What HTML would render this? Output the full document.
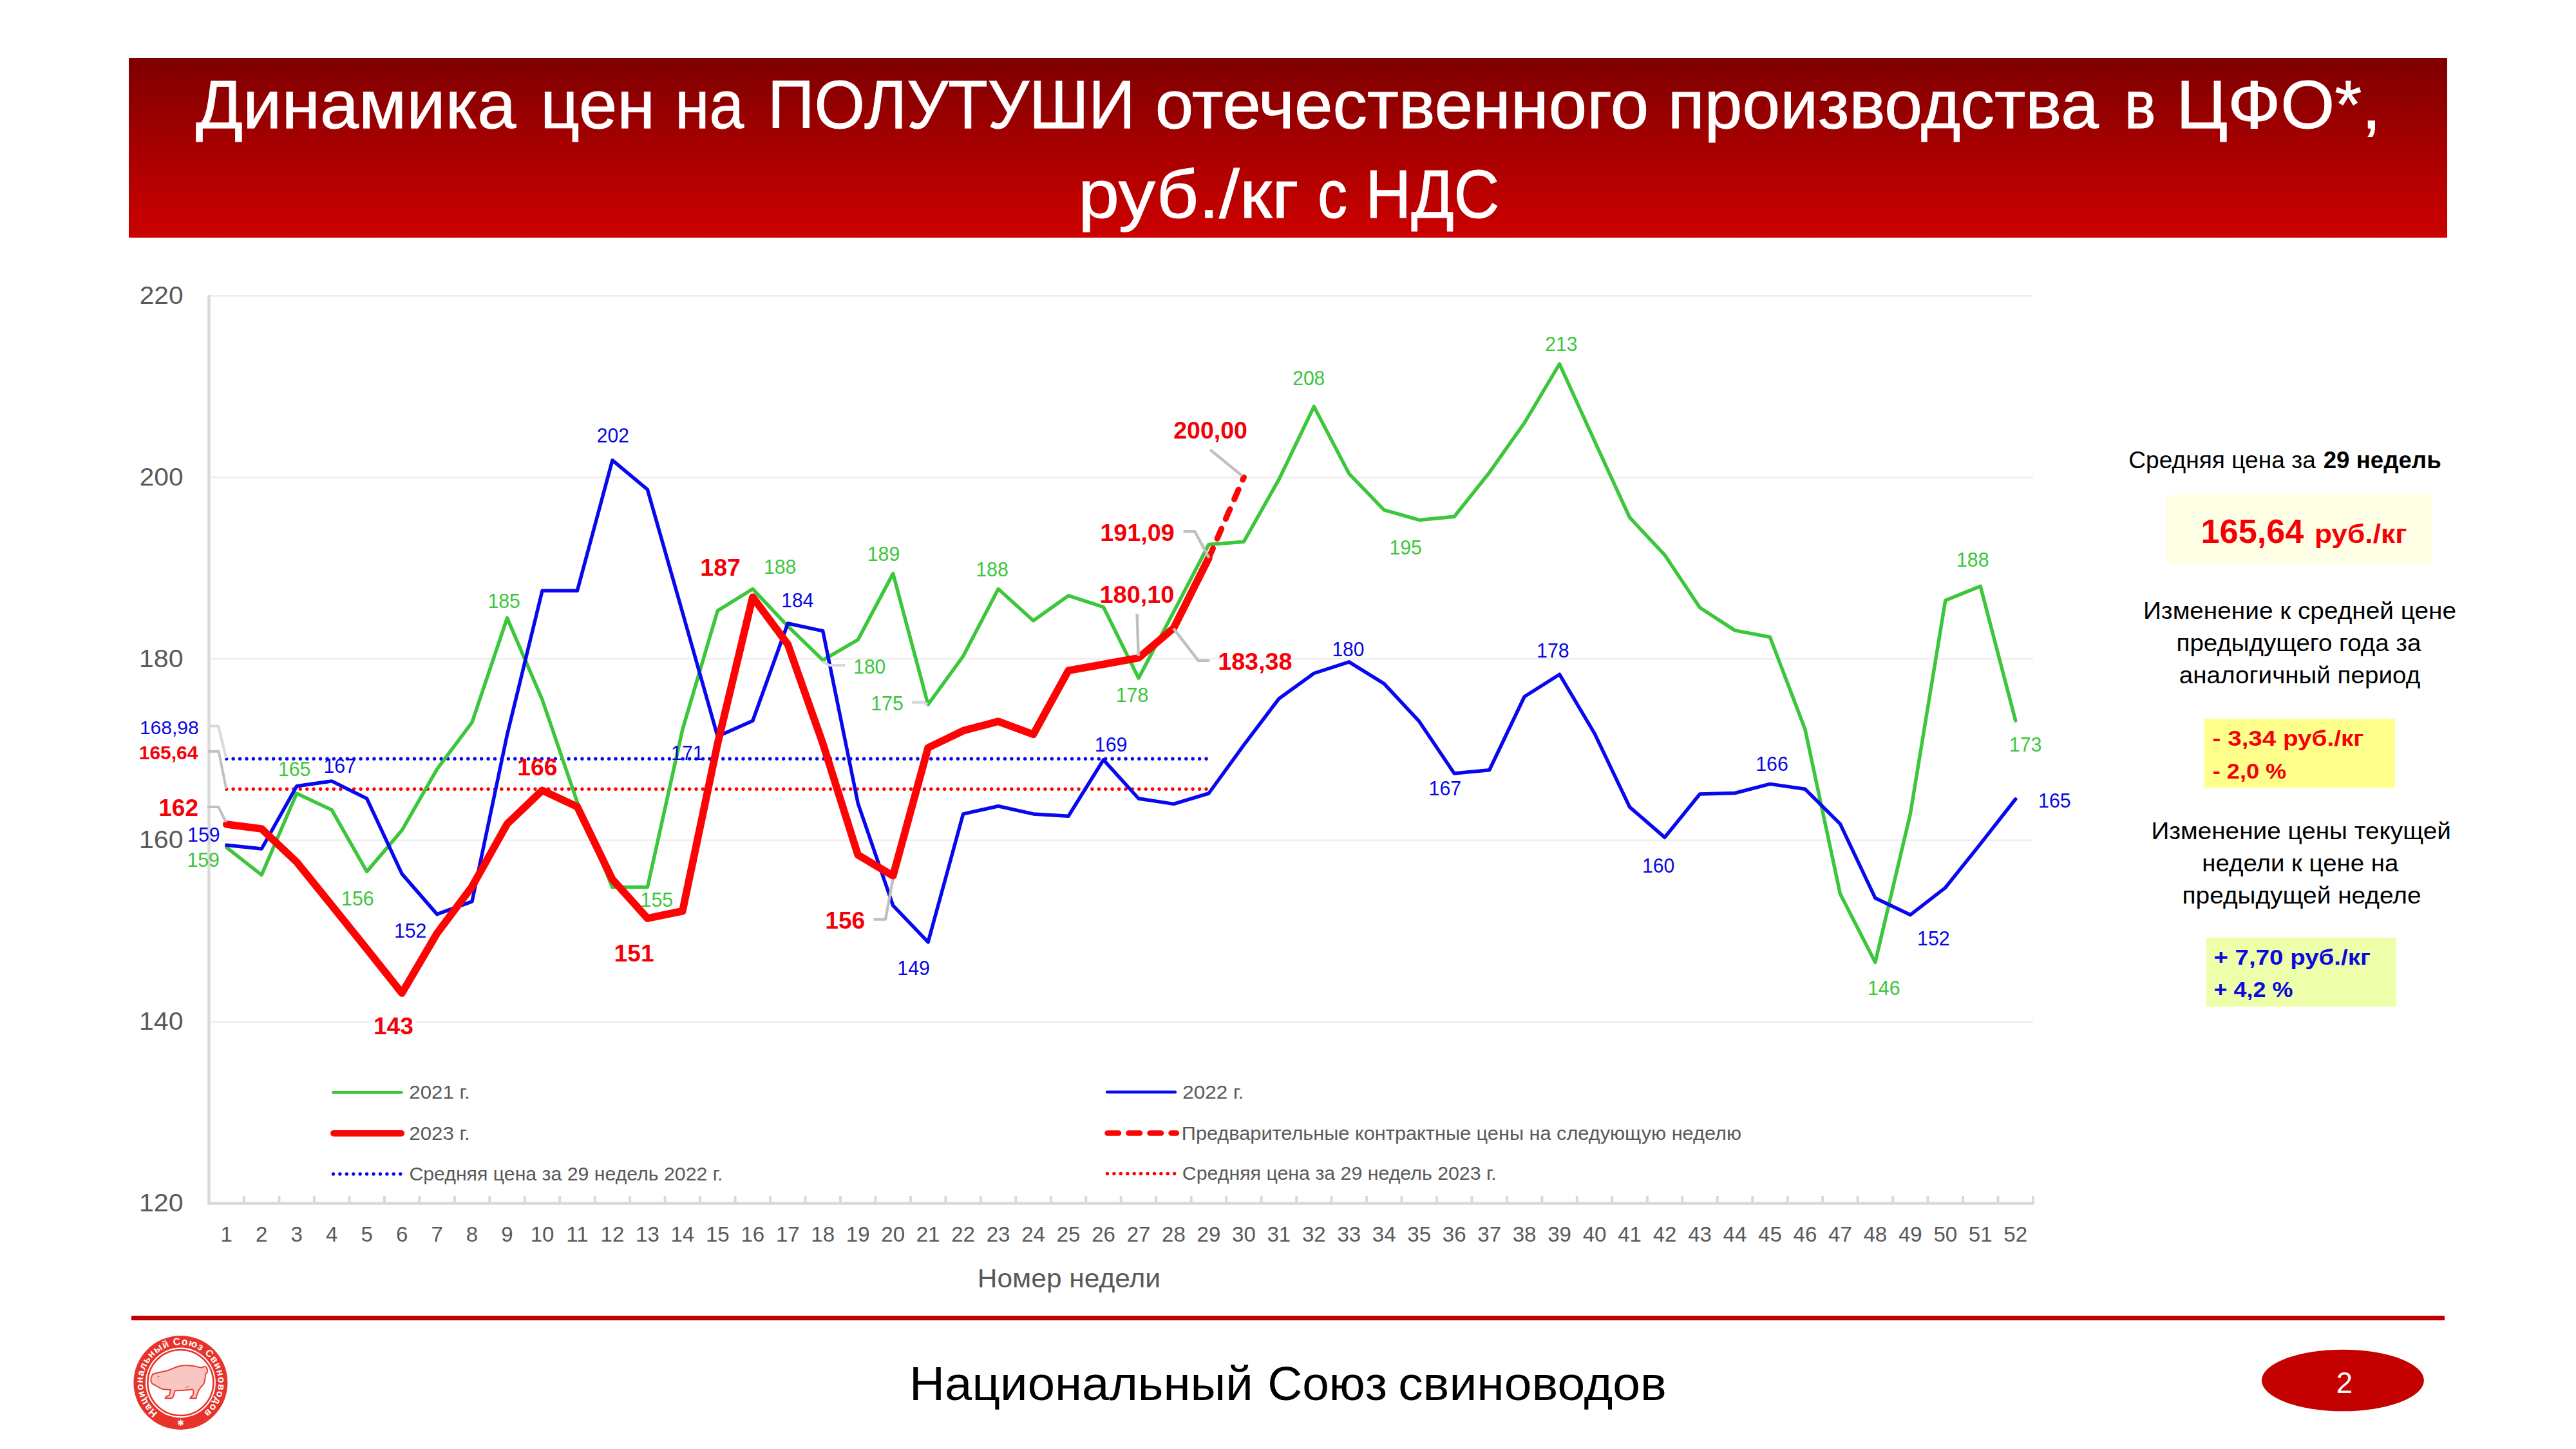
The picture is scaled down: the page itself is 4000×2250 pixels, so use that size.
<!DOCTYPE html>
<html lang="ru">
<head>
<meta charset="utf-8">
<title>Динамика цен на полутуши</title>
<style>
html,body{margin:0;padding:0;background:#fff;}
body{width:4000px;height:2250px;overflow:hidden;font-family:'Liberation Sans',sans-serif;}
svg{display:block;position:absolute;left:0;top:0;}
svg text{font-family:'Liberation Sans',sans-serif;}
</style>
</head>
<body>
<svg width="4000" height="2250" viewBox="0 0 4000 2250">
<defs>
<linearGradient id="hg" x1="0" y1="0" x2="0" y2="1">
<stop offset="0" stop-color="#7d0000"/>
<stop offset="0.5" stop-color="#a70000"/>
<stop offset="1" stop-color="#cc0000"/>
</linearGradient>
</defs>
<rect x="0" y="0" width="4000" height="2250" fill="#ffffff"/>

<rect x="200" y="90" width="3600" height="279" fill="url(#hg)"/>
<text x="304.0" y="199.0" font-size="105" fill="#ffffff" stroke="#fff" stroke-width="0.9" textLength="497.3" lengthAdjust="spacingAndGlyphs">Динамика</text>
<text x="839.1" y="199.0" font-size="105" fill="#ffffff" stroke="#fff" stroke-width="0.9" textLength="178.1" lengthAdjust="spacingAndGlyphs">цен</text>
<text x="1048.2" y="199.0" font-size="105" fill="#ffffff" stroke="#fff" stroke-width="0.9" textLength="106.8" lengthAdjust="spacingAndGlyphs">на</text>
<text x="1192.1" y="199.0" font-size="105" fill="#ffffff" stroke="#fff" stroke-width="0.9" textLength="570.8" lengthAdjust="spacingAndGlyphs">ПОЛУТУШИ</text>
<text x="1793.7" y="199.0" font-size="105" fill="#ffffff" stroke="#fff" stroke-width="0.9" textLength="766.6" lengthAdjust="spacingAndGlyphs">отечественного</text>
<text x="2589.7" y="199.0" font-size="105" fill="#ffffff" stroke="#fff" stroke-width="0.9" textLength="669.2" lengthAdjust="spacingAndGlyphs">производства</text>
<text x="3298.8" y="199.0" font-size="105" fill="#ffffff" stroke="#fff" stroke-width="0.9" textLength="48.7" lengthAdjust="spacingAndGlyphs">в</text>
<text x="3379.3" y="199.0" font-size="105" fill="#ffffff" stroke="#fff" stroke-width="0.9" textLength="318.1" lengthAdjust="spacingAndGlyphs">ЦФО*,</text>
<text x="1674.2" y="338.0" font-size="105" fill="#ffffff" stroke="#fff" stroke-width="0.9" textLength="342.8" lengthAdjust="spacingAndGlyphs">руб./кг</text>
<text x="2045.9" y="338.0" font-size="105" fill="#ffffff" stroke="#fff" stroke-width="0.9" textLength="46.2" lengthAdjust="spacingAndGlyphs">с</text>
<text x="2120.3" y="338.0" font-size="105" fill="#ffffff" stroke="#fff" stroke-width="0.9" textLength="208.1" lengthAdjust="spacingAndGlyphs">НДС</text>
<line x1="324.5" y1="459.4" x2="3157" y2="459.4" stroke="#eeeeee" stroke-width="2.7"/>
<line x1="324.5" y1="741.2" x2="3157" y2="741.2" stroke="#eeeeee" stroke-width="2.7"/>
<line x1="324.5" y1="1023.0" x2="3157" y2="1023.0" stroke="#eeeeee" stroke-width="2.7"/>
<line x1="324.5" y1="1304.8" x2="3157" y2="1304.8" stroke="#eeeeee" stroke-width="2.7"/>
<line x1="324.5" y1="1586.6" x2="3157" y2="1586.6" stroke="#eeeeee" stroke-width="2.7"/>
<line x1="324.5" y1="457.9" x2="324.5" y2="1870.7" stroke="#d9d9d9" stroke-width="4.5"/>
<line x1="322.3" y1="1868.5" x2="3158.5" y2="1868.5" stroke="#d9d9d9" stroke-width="4.5"/>
<path d="M379.0 1857V1868M433.4 1857V1868M487.9 1857V1868M542.4 1857V1868M596.9 1857V1868M651.3 1857V1868M705.8 1857V1868M760.3 1857V1868M814.7 1857V1868M869.2 1857V1868M923.7 1857V1868M978.1 1857V1868M1032.6 1857V1868M1087.1 1857V1868M1141.5 1857V1868M1196.0 1857V1868M1250.5 1857V1868M1305.0 1857V1868M1359.4 1857V1868M1413.9 1857V1868M1468.4 1857V1868M1522.8 1857V1868M1577.3 1857V1868M1631.8 1857V1868M1686.2 1857V1868M1740.7 1857V1868M1795.2 1857V1868M1849.7 1857V1868M1904.1 1857V1868M1958.6 1857V1868M2013.1 1857V1868M2067.5 1857V1868M2122.0 1857V1868M2176.5 1857V1868M2230.9 1857V1868M2285.4 1857V1868M2339.9 1857V1868M2394.4 1857V1868M2448.8 1857V1868M2503.3 1857V1868M2557.8 1857V1868M2612.2 1857V1868M2666.7 1857V1868M2721.2 1857V1868M2775.7 1857V1868M2830.1 1857V1868M2884.6 1857V1868M2939.1 1857V1868M2993.5 1857V1868M3048.0 1857V1868M3102.5 1857V1868M3156.9 1857V1868" stroke="#d9d9d9" stroke-width="4" fill="none"/>
<text x="216.7" y="472.0" font-size="39.5" fill="#595959" textLength="67.8" lengthAdjust="spacingAndGlyphs">220</text>
<text x="216.7" y="753.8" font-size="39.5" fill="#595959" textLength="67.8" lengthAdjust="spacingAndGlyphs">200</text>
<text x="216.0" y="1035.6" font-size="39.5" fill="#595959" textLength="68.5" lengthAdjust="spacingAndGlyphs">180</text>
<text x="216.0" y="1317.4" font-size="39.5" fill="#595959" textLength="68.5" lengthAdjust="spacingAndGlyphs">160</text>
<text x="216.0" y="1599.2" font-size="39.5" fill="#595959" textLength="68.5" lengthAdjust="spacingAndGlyphs">140</text>
<text x="216.0" y="1881.0" font-size="39.5" fill="#595959" textLength="68.5" lengthAdjust="spacingAndGlyphs">120</text>
<text x="351.7" y="1927.5" font-size="33" fill="#595959" text-anchor="middle">1</text>
<text x="406.2" y="1927.5" font-size="33" fill="#595959" text-anchor="middle">2</text>
<text x="460.7" y="1927.5" font-size="33" fill="#595959" text-anchor="middle">3</text>
<text x="515.1" y="1927.5" font-size="33" fill="#595959" text-anchor="middle">4</text>
<text x="569.6" y="1927.5" font-size="33" fill="#595959" text-anchor="middle">5</text>
<text x="624.1" y="1927.5" font-size="33" fill="#595959" text-anchor="middle">6</text>
<text x="678.6" y="1927.5" font-size="33" fill="#595959" text-anchor="middle">7</text>
<text x="733.0" y="1927.5" font-size="33" fill="#595959" text-anchor="middle">8</text>
<text x="787.5" y="1927.5" font-size="33" fill="#595959" text-anchor="middle">9</text>
<text x="842.0" y="1927.5" font-size="33" fill="#595959" text-anchor="middle">10</text>
<text x="896.4" y="1927.5" font-size="33" fill="#595959" text-anchor="middle">11</text>
<text x="950.9" y="1927.5" font-size="33" fill="#595959" text-anchor="middle">12</text>
<text x="1005.4" y="1927.5" font-size="33" fill="#595959" text-anchor="middle">13</text>
<text x="1059.8" y="1927.5" font-size="33" fill="#595959" text-anchor="middle">14</text>
<text x="1114.3" y="1927.5" font-size="33" fill="#595959" text-anchor="middle">15</text>
<text x="1168.8" y="1927.5" font-size="33" fill="#595959" text-anchor="middle">16</text>
<text x="1223.3" y="1927.5" font-size="33" fill="#595959" text-anchor="middle">17</text>
<text x="1277.7" y="1927.5" font-size="33" fill="#595959" text-anchor="middle">18</text>
<text x="1332.2" y="1927.5" font-size="33" fill="#595959" text-anchor="middle">19</text>
<text x="1386.7" y="1927.5" font-size="33" fill="#595959" text-anchor="middle">20</text>
<text x="1441.1" y="1927.5" font-size="33" fill="#595959" text-anchor="middle">21</text>
<text x="1495.6" y="1927.5" font-size="33" fill="#595959" text-anchor="middle">22</text>
<text x="1550.1" y="1927.5" font-size="33" fill="#595959" text-anchor="middle">23</text>
<text x="1604.5" y="1927.5" font-size="33" fill="#595959" text-anchor="middle">24</text>
<text x="1659.0" y="1927.5" font-size="33" fill="#595959" text-anchor="middle">25</text>
<text x="1713.5" y="1927.5" font-size="33" fill="#595959" text-anchor="middle">26</text>
<text x="1768.0" y="1927.5" font-size="33" fill="#595959" text-anchor="middle">27</text>
<text x="1822.4" y="1927.5" font-size="33" fill="#595959" text-anchor="middle">28</text>
<text x="1876.9" y="1927.5" font-size="33" fill="#595959" text-anchor="middle">29</text>
<text x="1931.4" y="1927.5" font-size="33" fill="#595959" text-anchor="middle">30</text>
<text x="1985.8" y="1927.5" font-size="33" fill="#595959" text-anchor="middle">31</text>
<text x="2040.3" y="1927.5" font-size="33" fill="#595959" text-anchor="middle">32</text>
<text x="2094.8" y="1927.5" font-size="33" fill="#595959" text-anchor="middle">33</text>
<text x="2149.2" y="1927.5" font-size="33" fill="#595959" text-anchor="middle">34</text>
<text x="2203.7" y="1927.5" font-size="33" fill="#595959" text-anchor="middle">35</text>
<text x="2258.2" y="1927.5" font-size="33" fill="#595959" text-anchor="middle">36</text>
<text x="2312.7" y="1927.5" font-size="33" fill="#595959" text-anchor="middle">37</text>
<text x="2367.1" y="1927.5" font-size="33" fill="#595959" text-anchor="middle">38</text>
<text x="2421.6" y="1927.5" font-size="33" fill="#595959" text-anchor="middle">39</text>
<text x="2476.1" y="1927.5" font-size="33" fill="#595959" text-anchor="middle">40</text>
<text x="2530.5" y="1927.5" font-size="33" fill="#595959" text-anchor="middle">41</text>
<text x="2585.0" y="1927.5" font-size="33" fill="#595959" text-anchor="middle">42</text>
<text x="2639.5" y="1927.5" font-size="33" fill="#595959" text-anchor="middle">43</text>
<text x="2693.9" y="1927.5" font-size="33" fill="#595959" text-anchor="middle">44</text>
<text x="2748.4" y="1927.5" font-size="33" fill="#595959" text-anchor="middle">45</text>
<text x="2802.9" y="1927.5" font-size="33" fill="#595959" text-anchor="middle">46</text>
<text x="2857.4" y="1927.5" font-size="33" fill="#595959" text-anchor="middle">47</text>
<text x="2911.8" y="1927.5" font-size="33" fill="#595959" text-anchor="middle">48</text>
<text x="2966.3" y="1927.5" font-size="33" fill="#595959" text-anchor="middle">49</text>
<text x="3020.8" y="1927.5" font-size="33" fill="#595959" text-anchor="middle">50</text>
<text x="3075.2" y="1927.5" font-size="33" fill="#595959" text-anchor="middle">51</text>
<text x="3129.7" y="1927.5" font-size="33" fill="#595959" text-anchor="middle">52</text>
<text x="1517.8" y="1999.0" font-size="41" fill="#595959" textLength="284.2" lengthAdjust="spacingAndGlyphs">Номер недели</text>
<line x1="351.7" y1="1178.3" x2="1877.9" y2="1178.3" stroke="#0808ee" stroke-width="5.4" stroke-linecap="round" stroke-dasharray="0 10.42"/>
<line x1="351.7" y1="1225.3" x2="1877.9" y2="1225.3" stroke="#fd0404" stroke-width="5.4" stroke-linecap="round" stroke-dasharray="0 10.42"/>
<polyline points="351.7,1315.8 406.2,1358.6 460.7,1232.0 515.1,1257.6 569.6,1353.4 624.1,1289.3 678.6,1194.3 733.0,1121.6 787.5,959.6 842.0,1086.4 896.4,1245.6 950.9,1377.6 1005.4,1377.6 1059.8,1132.9 1114.3,948.3 1168.8,914.5 1223.3,972.3 1277.7,1025.1 1332.2,993.4 1386.7,890.6 1441.1,1094.0 1495.6,1018.8 1550.1,914.5 1604.5,963.8 1659.0,924.9 1713.5,942.7 1768.0,1053.0 1822.4,950.2 1876.9,845.5 1931.4,841.2 1985.8,744.7 2040.3,631.3 2094.8,735.6 2149.2,791.9 2203.7,807.4 2258.2,802.2 2312.7,733.7 2367.1,656.7 2421.6,565.1 2476.1,685.1 2530.5,803.5 2585.0,861.8 2639.5,943.5 2693.9,978.9 2748.4,989.2 2802.9,1132.5 2857.4,1387.9 2911.8,1494.3 2966.3,1263.9 3020.8,932.3 3075.2,910.3 3129.7,1119.0" fill="none" stroke="#3cc63c" stroke-width="5.5" stroke-linejoin="round" stroke-linecap="round"/>
<polyline points="351.7,1312.3 406.2,1318.0 460.7,1220.8 515.1,1212.9 569.6,1240.0 624.1,1356.9 678.6,1419.6 733.0,1399.8 787.5,1140.9 842.0,917.3 896.4,917.3 950.9,714.7 1005.4,760.2 1059.8,951.1 1114.3,1143.5 1168.8,1119.2 1223.3,968.0 1277.7,979.7 1332.2,1247.3 1386.7,1406.2 1441.1,1462.9 1495.6,1263.9 1550.1,1251.8 1604.5,1263.9 1659.0,1267.2 1713.5,1179.8 1768.0,1240.0 1822.4,1248.4 1876.9,1232.0 1931.4,1156.9 1985.8,1085.0 2040.3,1045.5 2094.8,1027.8 2149.2,1061.7 2203.7,1120.2 2258.2,1201.0 2312.7,1195.7 2367.1,1081.8 2421.6,1047.2 2476.1,1139.1 2530.5,1253.1 2585.0,1300.3 2639.5,1232.9 2693.9,1231.5 2748.4,1217.4 2802.9,1225.3 2857.4,1279.4 2911.8,1394.4 2966.3,1420.6 3020.8,1378.3 3075.2,1310.4 3129.7,1240.8" fill="none" stroke="#0808ee" stroke-width="5.5" stroke-linejoin="round" stroke-linecap="round"/>
<line x1="1876.9" y1="866.7" x2="1931.4" y2="741.2" stroke="#fd0404" stroke-width="9" stroke-linecap="round" stroke-dasharray="16.6 16.6"/>
<polyline points="351.7,1280.0 406.2,1287.0 460.7,1338.6 515.1,1405.8 569.6,1473.6 624.1,1542.1 678.6,1449.2 733.0,1376.7 787.5,1279.4 842.0,1227.3 896.4,1252.7 950.9,1365.4 1005.4,1426.0 1059.8,1414.7 1114.3,1154.6 1168.8,927.2 1223.3,1000.5 1277.7,1154.5 1332.2,1327.6 1386.7,1359.9 1441.1,1161.1 1495.6,1134.7 1550.1,1120.2 1604.5,1140.4 1659.0,1041.3 1713.5,1031.5 1768.0,1021.6 1822.4,975.4 1876.9,866.7" fill="none" stroke="#fd0404" stroke-width="11.6" stroke-linejoin="round" stroke-linecap="round"/>
<polyline points="322.6,1127.5 339.1,1127.5 351.3,1177.2" fill="none" stroke="#d9d9d9" stroke-width="4" stroke-linejoin="round"/>
<polyline points="322.6,1166.8 339.6,1166.8 351.3,1224.7" fill="none" stroke="#bfbfbf" stroke-width="4" stroke-linejoin="round"/>
<polyline points="321.9,1252.9 339.1,1252.9 350.9,1276.6" fill="none" stroke="#bfbfbf" stroke-width="4" stroke-linejoin="round"/>
<polyline points="1276.4,1027.4 1287.9,1033.1 1312.2,1033.1" fill="none" stroke="#d9d9d9" stroke-width="4.4" stroke-linejoin="round"/>
<polyline points="1416,1090.5 1433.7,1090.5 1440.3,1094.1" fill="none" stroke="#d9d9d9" stroke-width="4.4" stroke-linejoin="round"/>
<polyline points="1356.4,1427.6 1374.9,1427.6 1386.4,1365.7" fill="none" stroke="#bfbfbf" stroke-width="4.4" stroke-linejoin="round"/>
<polyline points="1879.2,698.4 1929,739" fill="none" stroke="#bfbfbf" stroke-width="4.4" stroke-linejoin="round"/>
<polyline points="1837.6,825.2 1855.3,825.2 1877.4,866.2" fill="none" stroke="#bfbfbf" stroke-width="4.4" stroke-linejoin="round"/>
<polyline points="1765.6,953.3 1767.8,1018.6" fill="none" stroke="#bfbfbf" stroke-width="4.4" stroke-linejoin="round"/>
<polyline points="1822.2,975.8 1860.6,1025.7 1878.3,1025.7" fill="none" stroke="#bfbfbf" stroke-width="4.4" stroke-linejoin="round"/>
<rect x="576" y="1567" width="69.6" height="49" fill="#fff"/>
<rect x="329" y="1301" width="14" height="8" fill="#fff"/>
<text x="290.4" y="1346.3" font-size="30.5" fill="#3cc63c" textLength="50.6" lengthAdjust="spacingAndGlyphs">159</text>
<text x="431.9" y="1204.5" font-size="30.5" fill="#3cc63c" textLength="50.6" lengthAdjust="spacingAndGlyphs">165</text>
<text x="530.1" y="1406.3" font-size="30.5" fill="#3cc63c" textLength="50.6" lengthAdjust="spacingAndGlyphs">156</text>
<text x="757.4" y="943.5" font-size="30.5" fill="#3cc63c" textLength="50.6" lengthAdjust="spacingAndGlyphs">185</text>
<text x="994.6" y="1407.7" font-size="30.5" fill="#3cc63c" textLength="50.6" lengthAdjust="spacingAndGlyphs">155</text>
<text x="1185.9" y="890.9" font-size="30.5" fill="#3cc63c" textLength="50.6" lengthAdjust="spacingAndGlyphs">188</text>
<text x="1325.2" y="1045.5" font-size="30.5" fill="#3cc63c" textLength="50.1" lengthAdjust="spacingAndGlyphs">180</text>
<text x="1346.7" y="871.1" font-size="30.5" fill="#3cc63c" textLength="50.6" lengthAdjust="spacingAndGlyphs">189</text>
<text x="1352.2" y="1102.9" font-size="30.5" fill="#3cc63c" textLength="50.6" lengthAdjust="spacingAndGlyphs">175</text>
<text x="1515.2" y="895.3" font-size="30.5" fill="#3cc63c" textLength="50.6" lengthAdjust="spacingAndGlyphs">188</text>
<text x="1732.7" y="1089.6" font-size="30.5" fill="#3cc63c" textLength="50.6" lengthAdjust="spacingAndGlyphs">178</text>
<text x="2007.2" y="598.1" font-size="30.5" fill="#3cc63c" textLength="50.1" lengthAdjust="spacingAndGlyphs">208</text>
<text x="2157.4" y="860.9" font-size="30.5" fill="#3cc63c" textLength="50.6" lengthAdjust="spacingAndGlyphs">195</text>
<text x="2399.3" y="545.1" font-size="30.5" fill="#3cc63c" textLength="50.1" lengthAdjust="spacingAndGlyphs">213</text>
<text x="2900.0" y="1544.9" font-size="30.5" fill="#3cc63c" textLength="50.6" lengthAdjust="spacingAndGlyphs">146</text>
<text x="3038.0" y="879.6" font-size="30.5" fill="#3cc63c" textLength="50.6" lengthAdjust="spacingAndGlyphs">188</text>
<text x="3119.8" y="1166.7" font-size="30.5" fill="#3cc63c" textLength="50.6" lengthAdjust="spacingAndGlyphs">173</text>
<text x="291.1" y="1306.6" font-size="30.5" fill="#0606e4" textLength="50.6" lengthAdjust="spacingAndGlyphs">159</text>
<text x="502.4" y="1200.1" font-size="30.5" fill="#0606e4" textLength="50.6" lengthAdjust="spacingAndGlyphs">167</text>
<text x="611.9" y="1456.3" font-size="30.5" fill="#0606e4" textLength="50.6" lengthAdjust="spacingAndGlyphs">152</text>
<text x="926.8" y="687.3" font-size="30.5" fill="#0606e4" textLength="50.1" lengthAdjust="spacingAndGlyphs">202</text>
<text x="1042.1" y="1180.2" font-size="30.5" fill="#0606e4" textLength="50.6" lengthAdjust="spacingAndGlyphs">171</text>
<text x="1213.3" y="942.6" font-size="30.5" fill="#0606e4" textLength="50.1" lengthAdjust="spacingAndGlyphs">184</text>
<text x="1393.3" y="1513.7" font-size="30.5" fill="#0606e4" textLength="50.6" lengthAdjust="spacingAndGlyphs">149</text>
<text x="1699.8" y="1166.9" font-size="30.5" fill="#0606e4" textLength="50.6" lengthAdjust="spacingAndGlyphs">169</text>
<text x="2068.4" y="1018.6" font-size="30.5" fill="#0606e4" textLength="50.1" lengthAdjust="spacingAndGlyphs">180</text>
<text x="2218.6" y="1234.5" font-size="30.5" fill="#0606e4" textLength="50.6" lengthAdjust="spacingAndGlyphs">167</text>
<text x="2386.1" y="1021.3" font-size="30.5" fill="#0606e4" textLength="50.6" lengthAdjust="spacingAndGlyphs">178</text>
<text x="2550.1" y="1354.7" font-size="30.5" fill="#0606e4" textLength="50.1" lengthAdjust="spacingAndGlyphs">160</text>
<text x="2726.2" y="1196.5" font-size="30.5" fill="#0606e4" textLength="50.6" lengthAdjust="spacingAndGlyphs">166</text>
<text x="2977.1" y="1468.3" font-size="30.5" fill="#0606e4" textLength="50.6" lengthAdjust="spacingAndGlyphs">152</text>
<text x="3165.1" y="1253.7" font-size="30.5" fill="#0606e4" textLength="50.6" lengthAdjust="spacingAndGlyphs">165</text>
<text x="216.9" y="1139.6" font-size="30" fill="#0606e4" textLength="91.9" lengthAdjust="spacingAndGlyphs">168,98</text>
<text x="215.8" y="1179.0" font-size="30" fill="#f60008" font-weight="bold" textLength="91.6" lengthAdjust="spacingAndGlyphs">165,64</text>
<text x="246.3" y="1267.3" font-size="36.5" fill="#f60008" font-weight="bold" textLength="61.7" lengthAdjust="spacingAndGlyphs">162</text>
<text x="803.3" y="1203.6" font-size="36.5" fill="#f60008" font-weight="bold" textLength="62.1" lengthAdjust="spacingAndGlyphs">166</text>
<text x="579.9" y="1605.5" font-size="36.5" fill="#f60008" font-weight="bold" textLength="62.1" lengthAdjust="spacingAndGlyphs">143</text>
<text x="953.6" y="1492.5" font-size="36.5" fill="#f60008" font-weight="bold" textLength="62.1" lengthAdjust="spacingAndGlyphs">151</text>
<text x="1087.3" y="894.0" font-size="36.5" fill="#f60008" font-weight="bold" textLength="62.7" lengthAdjust="spacingAndGlyphs">187</text>
<text x="1281.2" y="1442.1" font-size="36.5" fill="#f60008" font-weight="bold" textLength="62.1" lengthAdjust="spacingAndGlyphs">156</text>
<text x="1822.2" y="681.1" font-size="36.5" fill="#f60008" font-weight="bold" textLength="114.7" lengthAdjust="spacingAndGlyphs">200,00</text>
<text x="1708.3" y="840.2" font-size="36.5" fill="#f60008" font-weight="bold" textLength="115.3" lengthAdjust="spacingAndGlyphs">191,09</text>
<text x="1707.5" y="936.0" font-size="36.5" fill="#f60008" font-weight="bold" textLength="115.9" lengthAdjust="spacingAndGlyphs">180,10</text>
<text x="1891.2" y="1039.8" font-size="36.5" fill="#f60008" font-weight="bold" textLength="115.3" lengthAdjust="spacingAndGlyphs">183,38</text>
<line x1="517.5" y1="1696.4" x2="623.3" y2="1696.4" stroke="#3cc63c" stroke-width="4.9" stroke-linecap="round"/>
<line x1="518" y1="1759.8" x2="623.2" y2="1759.8" stroke="#fd0404" stroke-width="9.8" stroke-linecap="round"/>
<line x1="517.5" y1="1823" x2="625" y2="1823" stroke="#0808ee" stroke-width="5.4" stroke-linecap="round" stroke-dasharray="0 10.42"/>
<text x="635.3" y="1705.8" font-size="30" fill="#595959" textLength="94.4" lengthAdjust="spacingAndGlyphs">2021 г.</text>
<text x="635.3" y="1769.5" font-size="30" fill="#595959" textLength="94.4" lengthAdjust="spacingAndGlyphs">2023 г.</text>
<text x="635.4" y="1832.5" font-size="30" fill="#595959" textLength="487.1" lengthAdjust="spacingAndGlyphs">Средняя цена за 29 недель 2022 г.</text>
<line x1="1719" y1="1695.8" x2="1825" y2="1695.8" stroke="#0808ee" stroke-width="4.4" stroke-linecap="round"/>
<line x1="1719.5" y1="1759.5" x2="1827" y2="1759.5" stroke="#fd0404" stroke-width="8.5" stroke-linecap="round" stroke-dasharray="17.5 15.5"/>
<line x1="1719.5" y1="1822.4" x2="1828" y2="1822.4" stroke="#fd0404" stroke-width="5.4" stroke-linecap="round" stroke-dasharray="0 10.42"/>
<text x="1836.3" y="1705.8" font-size="30" fill="#595959" textLength="95.0" lengthAdjust="spacingAndGlyphs">2022 г.</text>
<text x="1834.8" y="1769.5" font-size="30" fill="#595959" textLength="869.2" lengthAdjust="spacingAndGlyphs">Предварительные контрактные цены на следующую неделю</text>
<text x="1835.8" y="1832.3" font-size="30" fill="#595959" textLength="488.0" lengthAdjust="spacingAndGlyphs">Средняя цена за 29 недель 2023 г.</text>
<text x="3305.3" y="726.6" font-size="37.5" fill="#000" textLength="290.5" lengthAdjust="spacingAndGlyphs">Средняя цена за</text>
<text x="3607.7" y="726.6" font-size="37.5" fill="#000" font-weight="bold" textLength="183.0" lengthAdjust="spacingAndGlyphs">29 недель</text>
<rect x="3364" y="768.2" width="413" height="109.6" fill="#ffffe5"/>
<text x="3417.5" y="843.0" font-size="52.5" fill="#f60008" font-weight="bold" textLength="159.9" lengthAdjust="spacingAndGlyphs">165,64</text>
<text x="3593.9" y="843.0" font-size="41" fill="#f60008" font-weight="bold" textLength="143.7" lengthAdjust="spacingAndGlyphs">руб./кг</text>
<text x="3328.0" y="960.5" font-size="37.5" fill="#000" textLength="486.0" lengthAdjust="spacingAndGlyphs">Изменение к средней цене</text>
<text x="3379.6" y="1010.5" font-size="37.5" fill="#000" textLength="379.8" lengthAdjust="spacingAndGlyphs">предыдущего года за</text>
<text x="3383.8" y="1060.5" font-size="37.5" fill="#000" textLength="374.4" lengthAdjust="spacingAndGlyphs">аналогичный период</text>
<rect x="3423" y="1116" width="296" height="107" fill="#ffff8c"/>
<text x="3435.6" y="1158.2" font-size="33.5" fill="#f60008" font-weight="bold" textLength="234.7" lengthAdjust="spacingAndGlyphs">- 3,34 руб./кг</text>
<text x="3435.7" y="1208.5" font-size="33.5" fill="#f60008" font-weight="bold" textLength="114.6" lengthAdjust="spacingAndGlyphs">- 2,0 %</text>
<text x="3340.5" y="1303.2" font-size="37.5" fill="#000" textLength="465.3" lengthAdjust="spacingAndGlyphs">Изменение цены текущей</text>
<text x="3419.3" y="1353.4" font-size="37.5" fill="#000" textLength="305.1" lengthAdjust="spacingAndGlyphs">недели к цене на</text>
<text x="3388.5" y="1402.9" font-size="37.5" fill="#000" textLength="371.1" lengthAdjust="spacingAndGlyphs">предыдущей неделе</text>
<rect x="3426" y="1456" width="295" height="107" fill="#eeffaa"/>
<text x="3437.4" y="1498.0" font-size="33.5" fill="#0a0add" font-weight="bold" textLength="243.6" lengthAdjust="spacingAndGlyphs">+ 7,70 руб./кг</text>
<text x="3437.5" y="1548.2" font-size="33.5" fill="#0a0add" font-weight="bold" textLength="122.9" lengthAdjust="spacingAndGlyphs">+ 4,2 %</text>
<rect x="204" y="2043" width="3592" height="7.2" fill="#c00000"/>
<text x="1412.1" y="2173.6" font-size="75" fill="#000" textLength="533.8" lengthAdjust="spacingAndGlyphs">Национальный</text>
<text x="1968.2" y="2173.6" font-size="75" fill="#000" textLength="185.9" lengthAdjust="spacingAndGlyphs">Союз</text>
<text x="2171.2" y="2173.6" font-size="75" fill="#000" textLength="416.6" lengthAdjust="spacingAndGlyphs">свиноводов</text>
<ellipse cx="3637.9" cy="2143.5" rx="126" ry="47.8" fill="#c40000"/>
<text x="3640.5" y="2163.0" font-size="45.5" fill="#fff" text-anchor="middle">2</text>
<g id="logo">
<circle cx="280.4" cy="2147" r="73" fill="#e8332a"/>
<circle cx="280.4" cy="2147" r="54.5" fill="#fff"/>
<circle cx="280.4" cy="2147" r="51" fill="none" stroke="#e8332a" stroke-width="2.6"/>
<path id="lp" d="M 245.13 2193.80 A 58.6 58.6 0 1 1 316.07 2193.49" fill="none"/>
<text font-size="15.6" font-weight="bold" fill="#fff"><textPath href="#lp" textLength="291.0" lengthAdjust="spacing">Национальный Союз Свиноводов</textPath></text>
<text x="280.4" y="2213.5" font-size="13" fill="#fff" text-anchor="middle">✱</text>
<path d="M234.4 2140.4 L236.9 2134 Q241 2132.3 247.1 2131 L260.4 2128.2 L270.3 2124.1 Q275 2122 280.2 2121 Q286 2120 291.3 2120.2 Q298 2120.4 303.5 2121.6 L310.6 2123.5 L314.5 2123.2 Q317 2121.6 318.9 2122.1 Q321 2122.8 321.4 2124.9 Q322.4 2128 321.7 2131 Q320.6 2133 318.9 2133.7 Q319 2137.5 318.4 2140.9 Q317.8 2144.8 316.7 2148.1 Q314.5 2151.8 311.2 2154.7 L307.9 2160.2 L305.1 2168.5 L304.6 2171.3 L295.2 2171.3 L296.3 2169.1 L299.6 2166.9 L300.7 2160.2 L299 2157.5 Q286 2159 273.1 2159.4 L271.4 2160.2 L269.2 2168.5 L266.4 2171.3 L256.5 2171.3 L258.1 2168.5 L263.1 2166.3 L264.8 2158 Q258 2158 251.5 2156.9 L243.2 2152.5 L236.6 2148.6 Q234.8 2147 234.4 2144.8 Z" fill="#f9c6c2" stroke="#e63c32" stroke-width="1.9" stroke-linejoin="round"/>
<path d="M243.5 2138.6l4 -1.2M245 2142.3l1.6 0M288.5 2154.7l5.5 -2.8" stroke="#e8433a" stroke-width="1" fill="none"/>
</g>
</svg>
</body>
</html>
